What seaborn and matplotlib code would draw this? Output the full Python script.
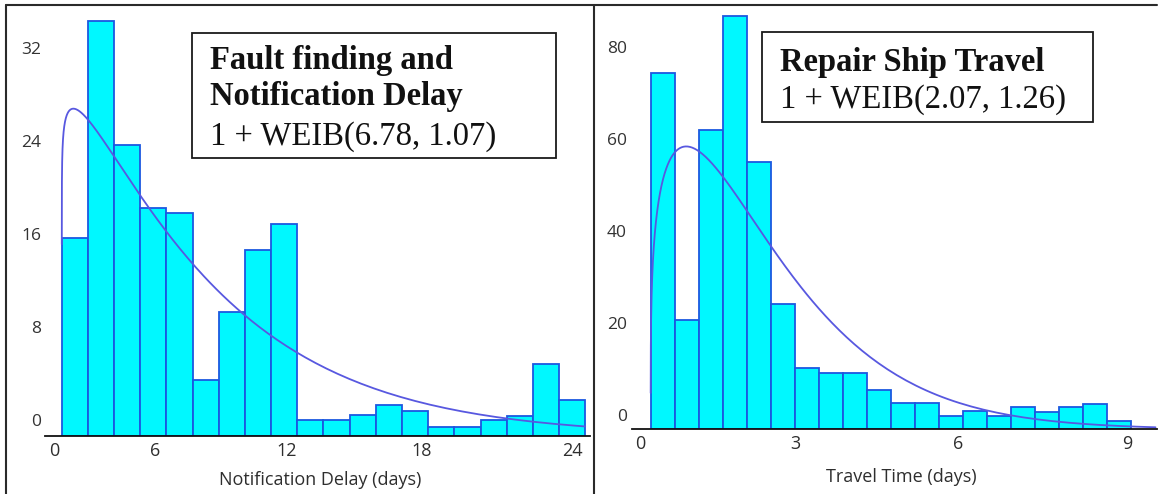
import numpy as np
import pandas as pd
import matplotlib
matplotlib.use("Agg")
import matplotlib.pyplot as plt
import matplotlib.transforms as mtransforms
from matplotlib.patches import Rectangle
from matplotlib.lines import Line2D
import seaborn as sns

# ---------------- data ----------------
delay_counts = [17.0, 35.7, 25.0, 19.6, 19.2, 4.8, 10.7, 16.0, 18.2, 1.4,
                1.4, 1.8, 2.7, 2.15, 0.8, 0.8, 1.4, 1.75, 6.15, 3.1]
delay_bin_start = 1.0
delay_bin_width = 1.2
delay_weib_scale, delay_weib_shape = 6.78, 1.07
delay_yticks = [0, 8, 16, 24, 32]
delay_xtick_labels = ["0", "6", "12", "18", "24"]
delay_xtick_pos = [0.65, 5.28, 11.33, 17.52, 24.41]
delay_title = ["Fault finding and", "Notification Delay", "1 + WEIB(6.78, 1.07)"]
delay_xlabel = "Notification Delay (days)"

travel_counts = [77.5, 23.8, 65.1, 89.9, 58.2, 27.2, 13.3, 12.2, 12.2, 8.5,
                 5.65, 5.65, 2.9, 4.0, 2.9, 4.9, 3.8, 4.9, 5.5, 1.9]
travel_bin_start = 1.0
travel_bin_width = 0.4
travel_weib_scale, travel_weib_shape = 2.07, 1.26
travel_yticks = [0, 20, 40, 60, 80]
travel_xtick_labels = ["0", "3", "6", "9"]
travel_xtick_pos = [0.82, 3.40, 6.11, 8.93]
travel_title = ["Repair Ship Travel", "1 + WEIB(2.07, 1.26)"]
travel_xlabel = "Travel Time (days)"

# ---------------- style ----------------
W, H = 1158, 494
sns.set_style("white")
plt.rcParams["font.family"] = ["Open Sans", "DejaVu Sans"]

BAR_FILL = "#00F8FF"
BAR_EDGE = "#1B58E0"
CURVE = "#5858E0"
TXT = "#2e2e2e"

fig = plt.figure(figsize=(W / 100, H / 100), dpi=100)
fig.patch.set_facecolor("white")


def px_axes(x0, y0, x1, y1):
    """axes rectangle from pixel box (top-left origin)"""
    return fig.add_axes([x0 / W, (H - y1) / H, (x1 - x0) / W, (y1 - y0) / H])


def weibull_pdf(t, scale, shape):
    return (shape / scale) * (t / scale) ** (shape - 1) * np.exp(-(t / scale) ** shape)


def panel(ax, counts, start, width, scale, shape, xmax_curve, xlim, ylim,
          yticks, xpos, xlabels, xlabel, label_coords, ylab_shift_px, ypad):
    counts = np.asarray(counts, dtype=float)
    edges = start + width * np.arange(len(counts) + 1)
    centers = (edges[:-1] + edges[1:]) / 2
    df = pd.DataFrame({"x": centers, "w": counts})
    sns.histplot(data=df, x="x", weights="w", bins=[float(e) for e in edges], ax=ax,
                 color=BAR_FILL, edgecolor=BAR_EDGE, linewidth=1.3, alpha=1.0)
    # fitted 1 + WEIB(scale, shape) density scaled to the histogram
    t = np.geomspace(1e-4, xmax_curve - start, 600)
    y = counts.sum() * width * weibull_pdf(t, scale, shape)
    sns.lineplot(x=start + t, y=y, ax=ax, color=CURVE, linewidth=1.3,
                 sort=False, estimator=None)
    ax.set_xlim(*xlim)
    ax.set_ylim(*ylim)
    for s in ["left", "right", "top"]:
        ax.spines[s].set_visible(False)
    ax.spines["bottom"].set_color("#111111")
    ax.spines["bottom"].set_linewidth(1.3)
    ax.set_facecolor("none")
    ax.set_ylabel("")
    ax.set_xticks(xpos)
    ax.set_xticklabels(xlabels, fontsize=13, color=TXT)
    ax.set_yticks(yticks)
    ax.set_yticklabels([str(v) for v in yticks], fontsize=12.5, color="#333333")
    ax.tick_params(axis="x", length=0, pad=4)
    ax.tick_params(axis="y", length=0, pad=ypad)
    off = mtransforms.ScaledTranslation(0, ylab_shift_px / 100, fig.dpi_scale_trans)
    for lab in ax.get_yticklabels():
        lab.set_transform(lab.get_transform() + off)
    ax.set_xlabel(xlabel, fontsize=13, color=TXT)
    ax.xaxis.set_label_coords(*label_coords)
    ax.grid(False)


ax1 = px_axes(45, 8, 590, 436)
panel(ax1, delay_counts, delay_bin_start, delay_bin_width,
      delay_weib_scale, delay_weib_shape, 25.0,
      (0.23, 25.22), (0, 36.8), delay_yticks, delay_xtick_pos,
      delay_xtick_labels, delay_xlabel, (0.505, -0.082), 16, 2.6)

ax2 = px_axes(631.7, 8, 1156.7, 429.3)
panel(ax2, travel_counts, travel_bin_start, travel_bin_width,
      travel_weib_scale, travel_weib_shape, 9.4,
      (0.684, 9.42), (0, 91.6), travel_yticks, travel_xtick_pos,
      travel_xtick_labels, travel_xlabel, (0.513, -0.092), 14.5, 3.4)


# ---------------- frames and annotation boxes ----------------
def fline(x0, y0, x1, y1, lw=1.5, color="#2a2a2a"):
    fig.add_artist(Line2D([x0 / W, x1 / W], [1 - y0 / H, 1 - y1 / H],
                          transform=fig.transFigure, color=color, lw=lw))


fline(6, 5, 1157, 5)
fline(6, 5, 6, 494)
fline(594, 5, 594, 494)


def fbox(x0, y0, x1, y1):
    fig.add_artist(Rectangle((x0 / W, 1 - y1 / H), (x1 - x0) / W, (y1 - y0) / H,
                             transform=fig.transFigure, facecolor="white",
                             edgecolor="#1a1a1a", lw=1.3, zorder=5))


serif = ["Liberation Serif", "DejaVu Serif"]
fbox(191.7, 33.3, 556, 158.3)
for txt, yc, wt in zip(delay_title, [60, 97, 137], ["bold", "bold", "normal"]):
    fig.text(210 / W, 1 - yc / H, txt, family=serif, fontsize=23.5,
             fontweight=wt, color="#111111", va="center", ha="left", zorder=6)

fbox(761.7, 31.7, 1093.3, 122.3)
for txt, yc, wt in zip(travel_title, [62, 100], ["bold", "normal"]):
    fig.text(780 / W, 1 - yc / H, txt, family=serif, fontsize=23.5,
             fontweight=wt, color="#111111", va="center", ha="left", zorder=6)

fig.savefig("out.png", dpi=100, facecolor="white")
